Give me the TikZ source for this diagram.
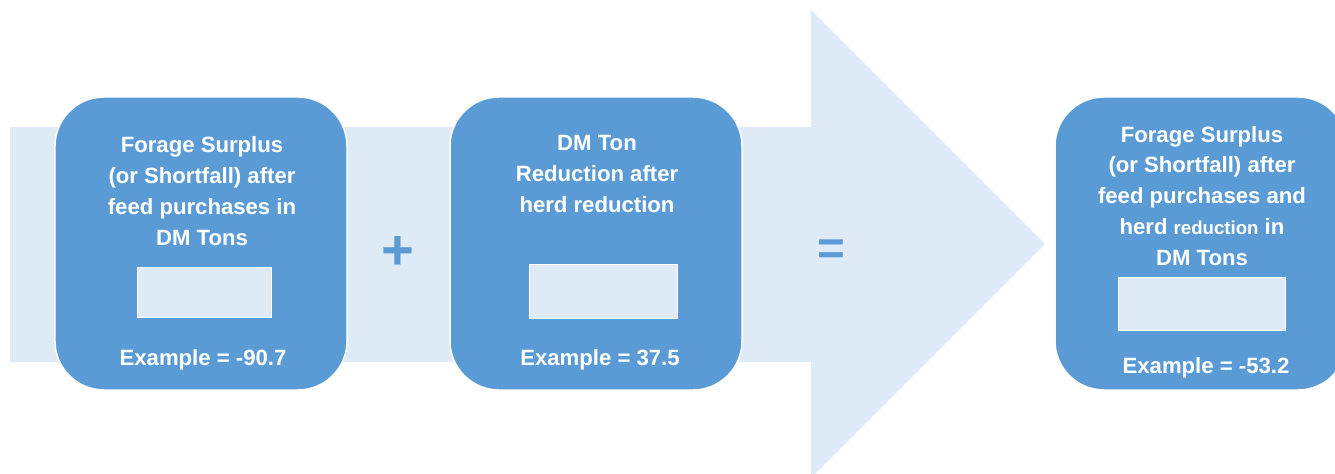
\documentclass[tikz,border=0pt]{standalone}
\usepackage{fontspec}
\setmainfont{Liberation Sans}
\usetikzlibrary{positioning}
\definecolor{paleblue}{RGB}{222,235,247}
\definecolor{midblue}{RGB}{91,155,213}
\tikzset{
  bluebox/.style={draw=white, line width=0.3mm, fill=midblue, rounded corners=9.8mm,
    minimum width=58.4mm, minimum height=58.6mm, inner sep=0pt},
  valbox/.style={draw=white, line width=0.2mm, fill=paleblue, inner sep=0pt},
  boxtext/.style={text=white, align=center, font=\fontsize{12.6}{17.6}\selectfont\bfseries, inner sep=0pt},
  signtext/.style={text=midblue, inner sep=0pt}
}
\begin{document}
\begin{tikzpicture}[x=0.2mm, y=-0.2mm]
    \useasboundingbox (0,0) rectangle (1335,474);
    \fill [paleblue] (10,127) -- (811,127) -- (811,10) -- (1045,244) -- (811,478) -- (811,362) -- (10,362) -- cycle;
    %
    \node [bluebox] (box1) at (201,243.5) {};
    \node [bluebox] (box2) at (596,243.5) {};
    \node [bluebox] (box3) at (1201,243.5) {};
    %
    \node [boxtext] (t1) at (202,191) {Forage Surplus\\(or Shortfall) after\\feed purchases in\\DM Tons};
    \node [valbox, minimum width=26.8mm, minimum height=10mm] (v1) at (204,292) {};
    \node [boxtext] (e1) at (203,360) {Example = -90.7};
    %
    \node [boxtext] (t2) at (597,174) {DM Ton\\Reduction after\\herd reduction};
    \node [valbox, minimum width=29.6mm, minimum height=10.8mm] (v2) at (603,291) {};
    \node [boxtext] (e2) at (600,360) {Example = 37.5};
    %
    \node [boxtext] (t3) at (1202,196) {Forage Surplus\\(or Shortfall) after\\feed purchases and\\herd {\fontsize{10.6}{17.6}\selectfont reduction} in\\DM Tons};
    \node [valbox, minimum width=33.4mm, minimum height=10.6mm] (v3) at (1201.5,303.5) {};
    \node [boxtext] (e3) at (1206,368) {Example = -53.2};
    %
    \node [signtext, font=\fontsize{32}{32}\selectfont\bfseries] (plus) at (398,253) {+};
    \node [signtext, font=\fontsize{27}{27}\selectfont\bfseries] (equals) at (831,252) {=};
\end{tikzpicture}
\end{document}
